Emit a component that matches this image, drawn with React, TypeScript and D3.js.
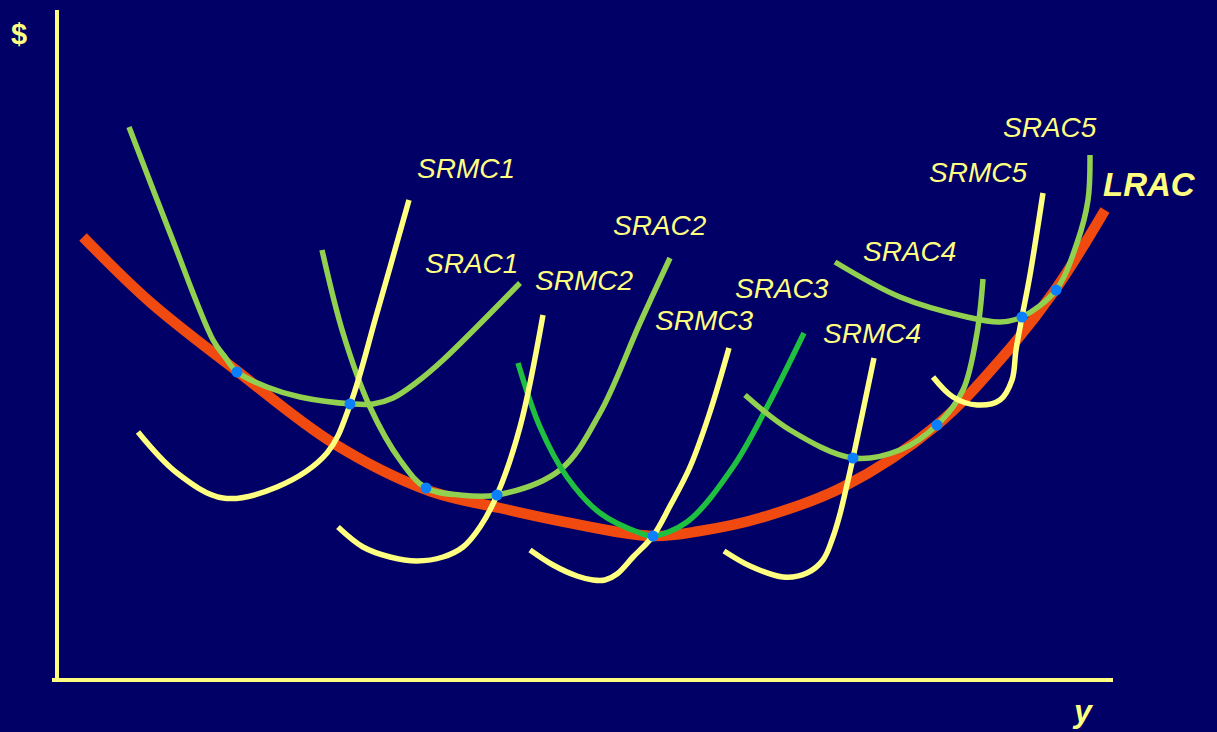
import React from "react";
import * as d3 from "d3";

// Data units: quantity (x) 0..1056, $ (y) 0..670
type P = [number, number];

const lrac: P[] = [[26,443],[93,378],[180,309],[276,237],[370,190],[443,172],[503,159],[595,144],[643,149],[703,162],[786,193],[880,255],[943,320],[998,390],[1048,470]];

const srac1: P[] = [[72,553],[113,447],[156,340],[168,323],[180,308],[210,293],[243,283],[296,276],[316,276],[336,282],[360,298],[386,320],[463,397]];
const srmc1: P[] = [[81,248],[120,207],[166,182],[220,193],[270,227],[293,275],[320,367],[352,480]];

const srac2: P[] = [[265,430],[286,347],[313,273],[343,220],[369,192],[403,185],[440,185],[503,210],[543,267],[583,357],[613,422]];
const srmc2: P[] = [[281,153],[306,133],[333,123],[360,119],[386,123],[406,133],[423,153],[440,185],[463,253],[486,365]];

const srac3: P[] = [[461,317],[483,253],[510,203],[543,167],[583,147],[596,144],[630,158],[676,213],[710,273],[747,347]];
const srmc3: P[] = [[473,130],[496,115],[520,104],[536,100],[548,100],[560,106],[576,123],[596,144],[613,174],[633,213],[652,265],[672,332]];

const srac4: P[] = [[688,285],[733,250],[796,222],[843,230],[880,255],[906,290],[920,347],[926,401]];
const srmc4: P[] = [[667,129],[693,114],[726,103],[750,107],[766,120],[776,143],[783,166],[789,191],[796,222],[817,322]];

const srac5: P[] = [[778,418],[843,383],[910,363],[943,358],[965,363],[999,390],[1020,437],[1031,480],[1033,525]];
const srmc5: P[] = [[876,303],[896,283],[920,275],[943,280],[955,300],[959,330],[965,363],[973,405],[986,487]];

const tangencyPoints: P[] = [[180,308],[293,276],[369,192],[440,185],[596,144],[796,222],[880,255],[965,363],[999,390]];

const curveLabels = ["SRMC1","SRAC1","SRMC2","SRAC2","SRAC3","SRMC3","SRMC4","SRAC4","SRMC5","SRAC5"];
const curveLabelPos: P[] = [[360,502],[368,407],[478,390],[556,445],[678,382],[598,350],[766,337],[806,419],[872,498],[946,543]];
const lracLabel = "LRAC";
const lracLabelPos: P = [1046,484];

const W = 1217, H = 732;
const BG = "#000066";
const YELLOW = "#FFFF80";
const LGREEN = "#92D050";
const DGREEN = "#1FBF3F";
const ORANGE = "#F04A10";
const BLUE = "#0A80FF";
const FONT = "'Liberation Sans', Arial, sans-serif";

export default function App() {
  const x = d3.scaleLinear().domain([0, 1056]).range([57, 1113]);
  const y = d3.scaleLinear().domain([0, 670]).range([680, 10]);
  const line = d3.line<P>().x(d => x(d[0])).y(d => y(d[1])).curve(d3.curveCatmullRom.alpha(0.5));

  const sracs: [P[], string][] = [[srac1, LGREEN],[srac2, LGREEN],[srac3, DGREEN],[srac4, LGREEN],[srac5, LGREEN]];
  const srmcs: P[][] = [srmc1, srmc2, srmc3, srmc4, srmc5];

  return (
    <svg width={W} height={H} style={{ position: "fixed", left: 0, top: 0, background: BG }}>
      <rect x={0} y={0} width={W} height={H} fill={BG} />
      {/* axes */}
      <line x1={x(0)} x2={x(0)} y1={y(0) + 2} y2={y(670)} stroke={YELLOW} strokeWidth={4} />
      <line x1={x(0) - 5} x2={x(1056)} y1={y(0)} y2={y(0)} stroke={YELLOW} strokeWidth={4} />
      <text x={11} y={44} fill={YELLOW} fontFamily={FONT} fontWeight="bold" fontSize={29}>$</text>
      <text x={1074} y={722} fill={YELLOW} fontFamily={FONT} fontWeight="bold" fontStyle="italic" fontSize={32}>y</text>

      <path d={line(lrac) || ""} fill="none" stroke={ORANGE} strokeWidth={10.5} />
      {sracs.map(([pts, c], i) => (
        <path key={"a" + i} d={line(pts) || ""} fill="none" stroke={c} strokeWidth={5.5} />
      ))}
      {srmcs.map((pts, i) => (
        <path key={"m" + i} d={line(pts) || ""} fill="none" stroke={YELLOW} strokeWidth={5.5} />
      ))}
      {tangencyPoints.map((p, i) => (
        <circle key={"d" + i} cx={x(p[0])} cy={y(p[1])} r={5.5} fill={BLUE} />
      ))}
      {curveLabels.map((t, i) => (
        <text key={"l" + i} x={x(curveLabelPos[i][0])} y={y(curveLabelPos[i][1])} fill={YELLOW}
          fontFamily={FONT} fontStyle="italic" fontSize={28}>{t}</text>
      ))}
      <text x={x(lracLabelPos[0])} y={y(lracLabelPos[1])} fill={YELLOW} fontFamily={FONT}
        fontStyle="italic" fontWeight="bold" fontSize={33}>{lracLabel}</text>
    </svg>
  );
}
